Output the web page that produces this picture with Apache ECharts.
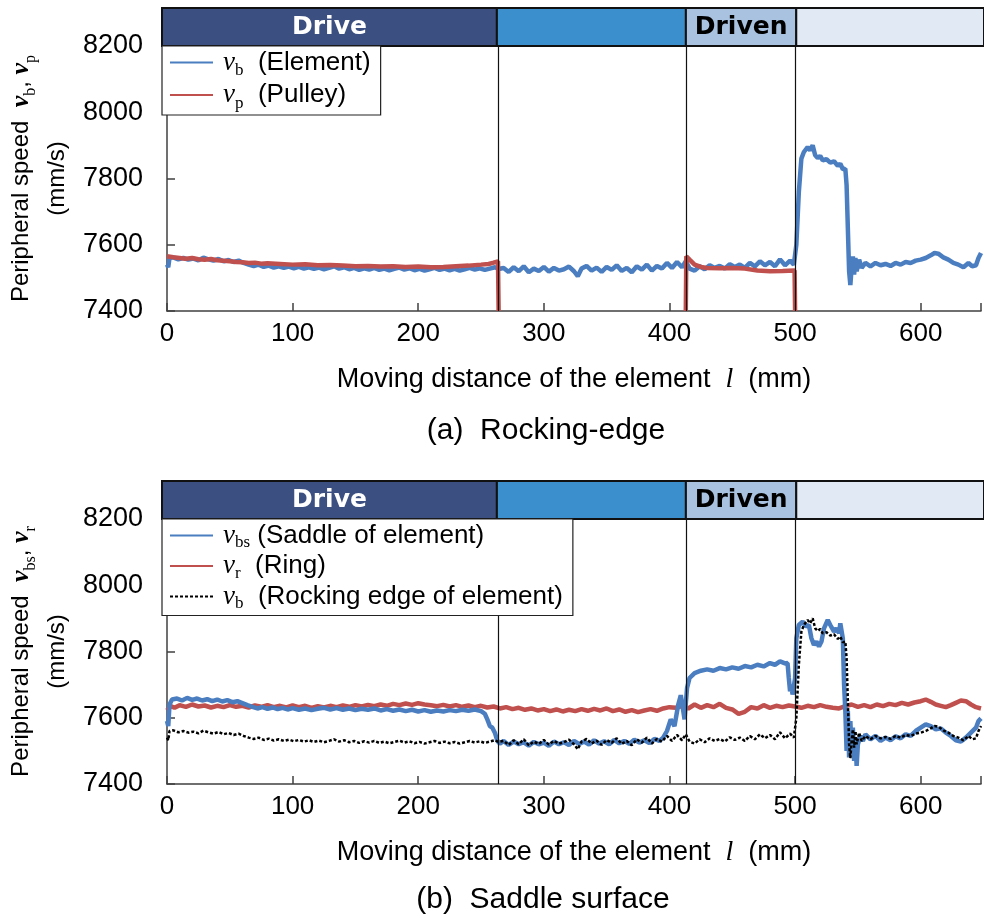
<!DOCTYPE html>
<html>
<head>
<meta charset="utf-8">
<script src="https://cdn.jsdelivr.net/npm/echarts@6/dist/echarts.min.js"></script>
<style>
  html, body { margin: 0; padding: 0; background: #fff; }
  #chart { width: 984px; height: 918px; }
</style>
</head>
<body>
<div id="chart"></div>
<script>
// ---- phases of the element along the belt (mm) ----
const phaseStart = [0, 264, 413, 500];
const phaseEnd   = [264, 413, 500, 648];
const phaseNames = ['Drive', '', 'Driven', ''];
const phaseBounds = [264, 413, 500];

// ---- axis ticks ----
const xTickValues = [0, 100, 200, 300, 400, 500, 600];
const yTickValues = [7400, 7600, 7800, 8000, 8200];

// ---- v_b : rocking edge of element (mm, mm/s) ----
const vbData = [
  [0,7540],[1,7532],[2,7560],[5,7562],[9,7556],[13,7560],[17,7555],[21,7558],[25,7553],[29,7561],
  [33,7556],[37,7552],[41,7557],[45,7550],[49,7554],[53,7548],[57,7552],[61,7545],[65,7540],[69,7536],
  [73,7540],[77,7533],[81,7537],[85,7531],[89,7535],[93,7530],[97,7534],[101,7529],[105,7533],[109,7528],
  [113,7532],[117,7527],[121,7531],[125,7526],[129,7530],[133,7535],[137,7528],[141,7532],[145,7526],[149,7530],
  [153,7524],[157,7529],[161,7525],[165,7530],[169,7524],[173,7528],[177,7523],[181,7527],[185,7531],[189,7525],
  [193,7529],[197,7523],[201,7527],[205,7522],[209,7526],[213,7530],[217,7524],[221,7528],[225,7523],[229,7527],
  [233,7522],[237,7526],[241,7530],[245,7525],[249,7529],[253,7524],[257,7528],[261,7532],[264,7527],
  [268,7530],[272,7518],[276,7532],[280,7520],[284,7535],[288,7517],[292,7528],[296,7521],[300,7533],[304,7519],
  [308,7530],[312,7522],[316,7526],[320,7534],[324,7520],[327,7505],[330,7528],[334,7536],[338,7522],[342,7531],
  [346,7518],[350,7533],[354,7524],[358,7538],[362,7521],[366,7530],[370,7517],[374,7535],[378,7525],[382,7540],
  [386,7522],[390,7536],[394,7528],[398,7545],[402,7530],[406,7548],[410,7532],[413,7550],[416,7528],[420,7522],
  [424,7535],[428,7526],[432,7538],[436,7530],[440,7536],[444,7528],[448,7541],[452,7533],[456,7540],[460,7530],
  [464,7545],[468,7535],[472,7550],[476,7538],[480,7548],[484,7535],[488,7556],[492,7538],[496,7552],[499,7540],
  [501,7600],[503,7760],[505,7860],[507,7880],[510,7895],[512,7885],[514,7900],[516,7870],[518,7862],[520,7868],
  [522,7855],[525,7858],[528,7848],[531,7852],[534,7838],[536,7845],[538,7828],[540,7830],[541,7780],[542,7650],
  [543,7520],[544,7478],[545,7530],[546,7565],[547,7510],[548,7560],[549,7520],[551,7555],[553,7530],[556,7545],
  [560,7535],[564,7545],[568,7538],[572,7542],[576,7536],[580,7545],[584,7540],[588,7548],[592,7545],[596,7552],
  [600,7555],[604,7560],[608,7568],[611,7575],[614,7573],[618,7562],[622,7555],[626,7545],[630,7540],[634,7532],
  [638,7545],[641,7535],[644,7538],[646,7560],[648,7575]
];

// ---- v_p : pulley (drops to the axis where the element leaves the pulley) ----
const vpData = [
  [0,7565],[5,7562],[10,7560],[15,7558],[20,7560],[25,7556],[30,7555],[35,7557],[40,7553],[45,7552],
  [50,7550],[55,7548],[60,7547],[65,7545],[70,7546],[75,7543],[80,7544],[90,7542],[100,7540],[110,7541],
  [120,7538],[130,7539],[140,7537],[150,7535],[160,7536],[170,7534],[180,7535],[190,7533],[200,7534],[210,7532],
  [220,7533],[230,7535],[240,7537],[250,7540],[256,7542],[260,7546],[263.5,7550],[264,7400],[264.5,null],
  [412.5,null],[413,7400],[413.4,7565],[416,7555],[420,7540],[425,7533],[430,7530],[440,7529],[450,7530],
  [460,7528],[470,7522],[480,7520],[490,7521],[499.6,7522],[500,7400]
];

// ---- v_bs : saddle of element ----
const vbsData = [
  [0,7590],[1,7575],[2,7640],[4,7655],[8,7658],[12,7652],[16,7660],[20,7654],[24,7658],[28,7652],
  [32,7656],[36,7650],[40,7655],[44,7649],[48,7653],[52,7647],[56,7650],[60,7644],[64,7638],[68,7633],
  [72,7628],[76,7632],[80,7627],[84,7631],[88,7626],[92,7630],[96,7625],[100,7629],[105,7624],[110,7628],
  [115,7623],[120,7627],[125,7630],[130,7625],[135,7629],[140,7624],[145,7628],[150,7623],[155,7627],[160,7624],
  [165,7628],[170,7622],[175,7626],[180,7621],[185,7625],[190,7620],[195,7624],[200,7619],[205,7623],[210,7618],
  [215,7622],[220,7619],[225,7623],[230,7620],[235,7624],[240,7621],[245,7625],[250,7620],[253,7612],[255,7595],
  [257,7575],[259,7570],[261,7555],[263,7530],[265,7522],[268,7530],[272,7518],[276,7528],[280,7520],[284,7526],
  [288,7516],[292,7527],[296,7520],[300,7525],[304,7515],[308,7528],[312,7520],[316,7526],[320,7518],[324,7530],
  [328,7521],[332,7528],[336,7519],[340,7532],[344,7522],[348,7529],[352,7520],[356,7533],[360,7523],[364,7530],
  [368,7521],[372,7534],[376,7525],[380,7532],[384,7524],[388,7536],[392,7530],[395,7540],[398,7560],[401,7595],
  [404,7575],[407,7640],[409,7668],[411,7620],[412,7595],[414,7690],[416,7720],[420,7735],[425,7742],[430,7746],
  [435,7742],[440,7750],[445,7746],[450,7752],[455,7748],[460,7756],[465,7752],[470,7760],[475,7755],[480,7765],
  [484,7760],[488,7770],[492,7764],[494,7765],[495,7720],[496,7680],[497,7700],[498,7670],[500,7720],[501,7840],
  [503,7880],[506,7890],[509,7875],[511,7880],[513,7840],[515,7820],[517,7830],[519,7815],[521,7830],[523,7870],
  [526,7895],[528,7880],[531,7860],[533,7870],[535,7855],[536,7885],[538,7840],[539,7700],[540,7620],[541,7500],
  [542,7620],[543,7480],[544,7590],[545,7500],[546,7570],[547,7470],[548,7540],[549,7455],[550,7520],[552,7545],
  [554,7530],[556,7550],[560,7535],[564,7545],[568,7530],[572,7540],[576,7532],[580,7544],[584,7538],[588,7550],
  [592,7545],[596,7560],[600,7570],[604,7580],[608,7575],[612,7565],[616,7568],[620,7555],[624,7545],[628,7532],
  [632,7528],[636,7540],[640,7555],[644,7570],[646,7590],[648,7598]
];

// ---- v_r : ring ----
const vrData = [
  [0,7622],[3,7635],[6,7630],[10,7638],[15,7633],[20,7640],[25,7634],[30,7637],[35,7631],[40,7636],
  [45,7632],[50,7638],[55,7633],[60,7636],[65,7631],[70,7637],[75,7633],[80,7638],[85,7632],[90,7636],
  [95,7631],[100,7637],[105,7632],[110,7636],[115,7630],[120,7635],[125,7631],[130,7636],[135,7632],[140,7637],
  [145,7633],[150,7638],[155,7634],[160,7639],[165,7635],[170,7640],[175,7636],[180,7642],[185,7638],[190,7643],
  [195,7639],[200,7644],[205,7640],[210,7638],[215,7635],[220,7639],[225,7634],[230,7638],[235,7633],[240,7637],
  [245,7632],[250,7636],[255,7631],[260,7634],[265,7628],[270,7632],[275,7626],[280,7630],[285,7624],[290,7628],
  [295,7622],[300,7626],[305,7620],[310,7625],[315,7619],[320,7624],[325,7620],[330,7626],[335,7621],[340,7627],
  [345,7622],[350,7628],[355,7620],[360,7625],[365,7618],[370,7623],[375,7617],[380,7622],[385,7626],[390,7621],
  [395,7628],[400,7632],[405,7630],[410,7635],[415,7628],[420,7640],[425,7630],[430,7638],[435,7632],[440,7642],
  [445,7630],[450,7625],[455,7612],[460,7618],[465,7632],[470,7628],[475,7638],[480,7630],[485,7636],[490,7632],
  [495,7637],[500,7634],[505,7630],[510,7636],[515,7632],[520,7638],[525,7633],[530,7630],[535,7628],[540,7635],
  [545,7640],[550,7633],[555,7638],[560,7632],[565,7640],[570,7635],[575,7642],[580,7638],[585,7645],[590,7640],
  [595,7646],[600,7650],[604,7655],[608,7648],[612,7640],[616,7636],[620,7632],[624,7638],[628,7645],[632,7652],
  [636,7650],[640,7640],[644,7632],[648,7628]
];

const SANS = '"Liberation Sans", Arial, Helvetica, sans-serif';
const SERIF = '"Liberation Serif", "Times New Roman", serif';
const BOLD_HEAD = '"DejaVu Sans", Verdana, sans-serif';
const BLUE = '#4a7ec0';
const RED = '#c0504d';
const AXIS = '#404040';

const phaseFill = ['#3b4f80', '#3b8fcd', '#a9c2e0', '#e0e9f4'];
const phaseText = ['#ffffff', '#000000', '#000000', '#000000'];

const legendLabels = {
  vb:  '{v|v}{s|b}{t|  (Element)}',
  vp:  '{v|v}{s|p}{t|  (Pulley)}',
  vbs: '{v|v}{s|bs}{t| (Saddle of element)}',
  vr:  '{v|v}{s|r}{t|  (Ring)}',
  vb2: '{v|v}{s|b}{t|  (Rocking edge of element)}'
};

const legendRich = (lh) => ({
  v: { fontFamily: SERIF, fontStyle: 'italic', fontSize: 27, lineHeight: lh, color: '#000', padding: [0, 0, 0, 5] },
  s: { fontFamily: SERIF, fontSize: 17, lineHeight: 12, verticalAlign: 'bottom', color: '#000' },
  t: { fontFamily: SANS, fontSize: 26, lineHeight: lh, color: '#000' }
});

function renderPhase(params, api) {
  const i = api.value(2);
  const p0 = api.coord([api.value(0), 0]);
  const p1 = api.coord([api.value(1), 1]);
  return {
    type: 'rect',
    shape: { x: p0[0], y: p1[1], width: p1[0] - p0[0], height: p0[1] - p1[1] },
    style: { fill: phaseFill[i], stroke: '#111', lineWidth: 2 },
    textContent: {
      style: { text: phaseNames[i], fill: phaseText[i], font: 'bold 25px ' + BOLD_HEAD }
    },
    textConfig: { position: 'inside' }
  };
}

const phaseSeriesData = phaseStart.map((s, i) => [s, phaseEnd[i], i]);

function headerAxes(gi) {
  return {
    x: { gridIndex: gi, type: 'value', min: 0, max: 648, show: false },
    y: { gridIndex: gi, type: 'value', min: 0, max: 1, show: false }
  };
}

function plotXAxis(gi) {
  return {
    gridIndex: gi, type: 'value', min: 0, max: 648, interval: 100,
    axisLine: { show: true, lineStyle: { color: AXIS, width: 1.5 } },
    axisTick: { show: true, inside: true, length: 8, lineStyle: { color: AXIS, width: 1.5 } },
    axisLabel: {
      fontFamily: SANS, fontSize: 26, color: '#000', margin: 10,
      formatter: (v) => (xTickValues.indexOf(v) >= 0 ? String(v) : '')
    },
    splitLine: { show: false },
    name: '{a|Moving distance of the element  }{l|l}{a|  (mm)}',
    nameLocation: 'middle', nameGap: 54,
    nameTextStyle: {
      rich: {
        a: { fontFamily: SANS, fontSize: 27, color: '#000', lineHeight: 30 },
        l: { fontFamily: SERIF, fontStyle: 'italic', fontSize: 28, color: '#000', lineHeight: 30 }
      }
    }
  };
}

function plotYAxis(gi, nameStr) {
  return {
    gridIndex: gi, type: 'value', min: 7400, max: 8200, interval: 200,
    axisLine: { show: true, lineStyle: { color: AXIS, width: 1.5 } },
    axisTick: { show: true, inside: true, length: 8, lineStyle: { color: AXIS, width: 1.5 } },
    axisLabel: {
      fontFamily: SANS, fontSize: 27, color: '#000', margin: 24,
      formatter: (v) => (yTickValues.indexOf(v) >= 0 ? String(v) : '')
    },
    splitLine: { show: false },
    name: nameStr, nameLocation: 'middle', nameRotate: 90, nameGap: 92,
    nameTextStyle: {
      rich: {
        a: { fontFamily: SANS, fontSize: 24, color: '#000', lineHeight: 36 },
        v: { fontFamily: SERIF, fontStyle: 'italic', fontWeight: 'bold', fontSize: 26, color: '#000', lineHeight: 36 },
        s: { fontFamily: SERIF, fontSize: 16, color: '#000', lineHeight: 12, verticalAlign: 'bottom' }
      }
    }
  };
}

const hA = headerAxes(0), hB = headerAxes(2);

const boundaryLines = {
  silent: true, symbol: 'none', animation: false,
  label: { show: false },
  lineStyle: { color: '#111', width: 1.2, type: 'solid' },
  data: phaseBounds.map((b) => ({ xAxis: b }))
};

const legendBase = {
  orient: 'vertical', left: 162,
  itemWidth: 43, itemHeight: 14,
  padding: [3, 10, 3, 7],
  borderColor: '#222', borderWidth: 1.2, borderRadius: 0, backgroundColor: '#fff',
  selectedMode: false, z: 10,
  itemStyle: { opacity: 0, borderWidth: 0 },
  formatter: (n) => legendLabels[n]
};

const option = {
  animation: false,
  backgroundColor: '#fff',
  grid: [
    { left: 162, right: 0, top: 8, height: 38 },
    { left: 162, right: 0, top: 46, height: 265 },
    { left: 162, right: 0, top: 481, height: 38 },
    { left: 162, right: 0, top: 519, height: 265 }
  ],
  xAxis: [hA.x, plotXAxis(1), hB.x, plotXAxis(3)],
  yAxis: [
    hA.y,
    plotYAxis(1, '{a|Peripheral speed  }{v|v}{s|b}{a|, }{v|v}{s|p}\n{a|(mm/s)}'),
    hB.y,
    plotYAxis(3, '{a|Peripheral speed  }{v|v}{s|bs}{a|, }{v|v}{s|r}\n{a|(mm/s)}')
  ],
  legend: [
    Object.assign({}, legendBase, {
      data: ['vb', 'vp'], top: 46, itemGap: 2,
      textStyle: { rich: legendRich(34) }
    }),
    Object.assign({}, legendBase, {
      data: ['vbs', 'vr', 'vb2'], top: 519, itemGap: 1,
      textStyle: { rich: legendRich(32) }
    })
  ],
  graphic: [
    { type: 'text', x: 546, y: 431, style: { text: '(a)  Rocking-edge', font: '30px ' + SANS, fill: '#000', textAlign: 'center', textVerticalAlign: 'middle' } },
    { type: 'text', x: 543, y: 900, style: { text: '(b)  Saddle surface', font: '30px ' + SANS, fill: '#000', textAlign: 'center', textVerticalAlign: 'middle' } }
  ],
  series: [
    { type: 'custom', xAxisIndex: 0, yAxisIndex: 0, data: phaseSeriesData, renderItem: renderPhase, silent: true, clip: false },
    { type: 'custom', xAxisIndex: 2, yAxisIndex: 2, data: phaseSeriesData, renderItem: renderPhase, silent: true, clip: false },

    { name: 'vb', type: 'line', xAxisIndex: 1, yAxisIndex: 1, data: vbData, symbol: 'none', showSymbol: false,
      lineStyle: { color: BLUE, width: 4.5 }, itemStyle: { color: BLUE } },
    { name: 'vp', type: 'line', xAxisIndex: 1, yAxisIndex: 1, data: vpData, symbol: 'none', showSymbol: false,
      connectNulls: false, lineStyle: { color: RED, width: 4.5 }, itemStyle: { color: RED },
      markLine: boundaryLines },

    { name: 'vr', type: 'line', xAxisIndex: 3, yAxisIndex: 3, data: vrData, symbol: 'none', showSymbol: false,
      lineStyle: { color: RED, width: 4.5 }, itemStyle: { color: RED } },
    { name: 'vbs', type: 'line', xAxisIndex: 3, yAxisIndex: 3, data: vbsData, symbol: 'none', showSymbol: false,
      lineStyle: { color: BLUE, width: 4.5 }, itemStyle: { color: BLUE } },
    { name: 'vb2', type: 'line', xAxisIndex: 3, yAxisIndex: 3, data: vbData, symbol: 'none', showSymbol: false,
      lineStyle: { color: '#000', width: 2.5, type: [3, 2] }, itemStyle: { color: '#000' },
      markLine: boundaryLines }
  ]
};

const chart = echarts.init(document.getElementById('chart'), null, { renderer: 'canvas' });
chart.setOption(option);
</script>
</body>
</html>
